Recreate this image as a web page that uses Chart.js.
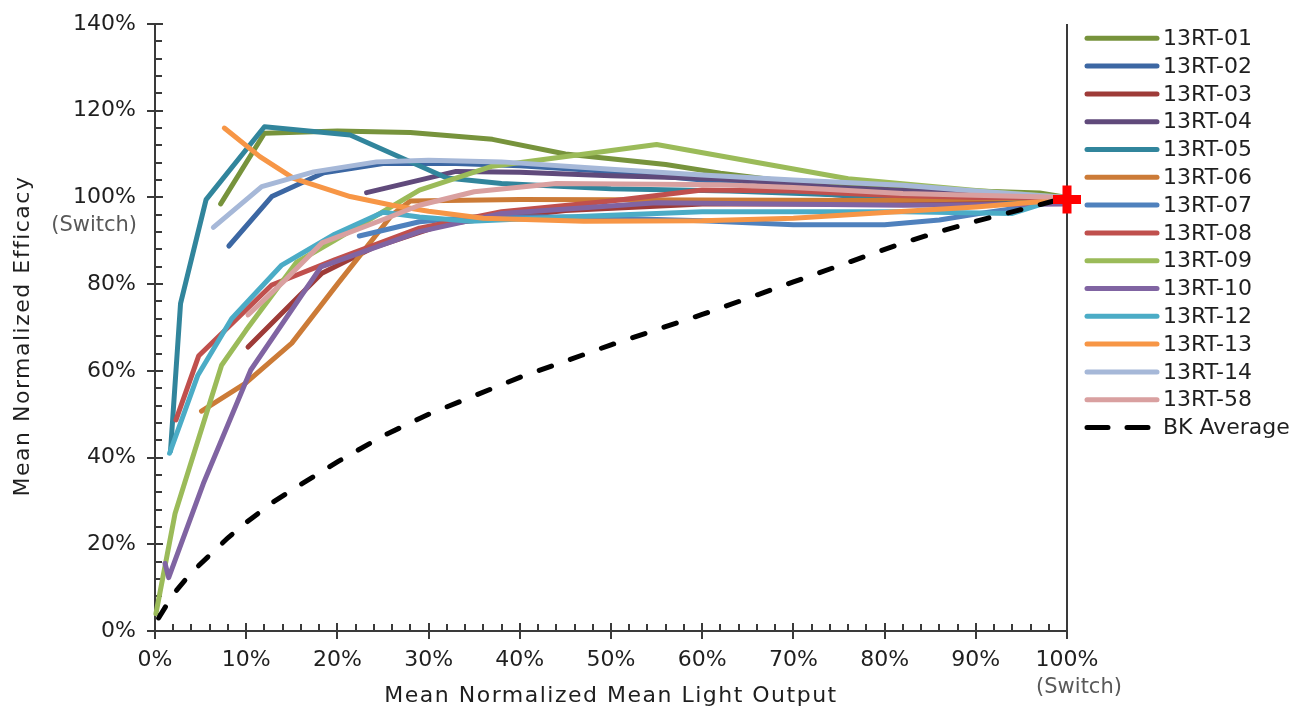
<!DOCTYPE html>
<html>
<head>
<meta charset="utf-8">
<script src="https://cdn.jsdelivr.net/npm/chart.js@4.4.1/dist/chart.umd.min.js"></script>
<style>
  html, body { margin: 0; padding: 0; background: #ffffff; }
  #wrap { width: 1314px; height: 711px; position: relative; }
</style>
</head>
<body>
<div id="wrap"><canvas id="chart" width="1314" height="711"></canvas></div>
<script>
// Series: [mean normalized light output %, mean normalized efficacy %]
const seriesNames = ['13RT-01', '13RT-02', '13RT-03', '13RT-04', '13RT-05', '13RT-06', '13RT-07',
                     '13RT-08', '13RT-09', '13RT-10', '13RT-12', '13RT-13', '13RT-14', '13RT-58'];

const rt01 = [[7.2,98.5],[12,114.8],[20,115.3],[28,115],[37,113.4],[45,110],[56,107.6],[62,105.6],[70,103.5],[80,102],[90,101.5],[97,101],[100,100]];
const rt02 = [[8.1,88.8],[12.8,100.2],[18.5,105.7],[25,107.8],[33,107.8],[40,107.3],[50,106],[60,104],[70,101.5],[80,99.6],[90,99],[100,100]];
const rt03 = [[10.2,65.5],[18.3,82.5],[24,88.5],[32,94],[45,97],[60,98.5],[80,98.5],[100,100]];
const rt04 = [[23.2,101.1],[29,104],[33,106],[40,105.8],[50,105],[62,104.3],[75,102.3],[90,100.8],[100,100]];
const rt05 = [[1.7,41.5],[2.8,75.5],[5.6,99.5],[12,116.3],[21.4,114.4],[32,104.5],[38,103.2],[50,102],[63,101.5],[80,100.2],[95,99.5],[100,100]];
const rt06 = [[5.1,50.7],[9.9,57.1],[15,66.4],[20,80],[26,96],[28,99.2],[40,99.5],[60,99.4],[80,99.3],[100,100]];
const rt07 = [[22.4,91.1],[29,94.4],[35,95.5],[45,95.5],[60,94.6],[70,93.7],[80,93.7],[86,94.8],[91,96.5],[96,98],[100,100]];
const rt08 = [[2.3,48.7],[4.8,63.5],[12.8,79.8],[19.7,85.6],[29,92.9],[38,96.7],[50,99.2],[60,101.7],[70,101.5],[80,100.5],[90,100],[100,100]];
const rt09 = [[0.1,4],[2.2,27.1],[7.3,61.3],[10,69.4],[15.5,85],[19.6,90],[29,101.7],[37,107.2],[55,112.2],[76,104.3],[90,101.6],[100,100]];
const rt10 = [[1.1,15.6],[1.5,12.3],[5.3,34],[10.5,60.2],[18.2,84],[29,92.1],[38,96.3],[55,98.8],[63,98.6],[82,98.2],[100,98.5]];
const rt12 = [[1.6,41],[4.7,59],[8.4,72],[13.9,84.4],[19.7,91.5],[25,96.6],[29,95.5],[34.6,94.5],[45,95.5],[60,96.7],[82,96.7],[94,96.3],[98,99],[100,100]];
const rt13 = [[7.6,116],[11.5,109.4],[15.2,104.4],[21.4,100.2],[26,98.2],[30,96.8],[36,95.2],[47,94.5],[60,94.6],[70,95.2],[80,96.5],[90,97.8],[100,99.5]];
const rt14 = [[6.4,93.1],[11.7,102.5],[17.4,105.9],[24.3,108.2],[30,108.6],[38,108.2],[50,106.5],[60,105.2],[70,104],[82,102.8],[90,101.5],[100,100]];
const rt58 = [[10.2,72.9],[14.3,81],[18.3,89.5],[25.4,95.2],[29,98.2],[35,101.3],[44,103.2],[62,102.9],[70,102.3],[82,100.9],[100,100]];

const bkAverage = [[0.4,3],[2,8.5],[4,13.5],[6,17.5],[8,21.5],[10,25],[13,29.8],[16,33.8],[20,39],[25,45],[30,50],[40,58.5],[50,66],[60,73],[70,80.5],[78,86.5],[82,89.5],[86,92.1],[90,94.5],[95,97.2],[100,100]];
const switchPoint = [[100, 99.5]];

const seriesData = [rt01, rt02, rt03, rt04, rt05, rt06, rt07, rt08, rt09, rt10, rt12, rt13, rt14, rt58];
const seriesColors = ['#77933C', '#3C67A3', '#9E3B38', '#604A7B', '#31859C', '#CC7B37', '#4F81BD',
                      '#C0504D', '#9BBB59', '#8064A2', '#4BACC6', '#F79646', '#A6B8D8', '#D9A0A0'];

const xTickStep = 10, xMinorStep = 2;
const yTickStep = 20, yMinorStep = 4;

const FONT = "'DejaVu Sans', 'Noto Sans', sans-serif";
const TEXT = '#1f1f1f';
const SUBTEXT = '#595959';
const AXIS = '#3a3a3a';

const datasets = seriesData.map((pts, i) => ({
  label: seriesNames[i],
  data: pts,
  borderColor: seriesColors[i],
  backgroundColor: seriesColors[i],
  borderWidth: 5,
  pointRadius: 0,
  tension: 0,
  borderCapStyle: 'round',
  borderJoinStyle: 'round',
  fill: false,
  clip: false,
  order: 40 - i
}));

datasets.push({
  label: 'BK Average',
  data: bkAverage,
  borderColor: '#000000',
  backgroundColor: '#000000',
  borderWidth: 5,
  borderDash: [13, 20],
  borderCapStyle: 'round',
  pointRadius: 0,
  tension: 0,
  fill: false,
  clip: false,
  order: 2
});

datasets.push({
  label: '',
  data: switchPoint,
  showLine: false,
  pointStyle: 'cross',
  pointRadius: 14,
  pointBorderWidth: 9,
  pointBorderColor: '#FF0000',
  pointBackgroundColor: '#FF0000',
  borderColor: '#FF0000',
  clip: false,
  order: 0
});

// Axis frame with crossing major ticks and inside minor ticks
const framePlugin = {
  id: 'frame',
  beforeDatasetsDraw(chart) {
    const { ctx, chartArea: a, scales: { x, y } } = chart;
    ctx.save();
    ctx.strokeStyle = AXIS;
    ctx.lineWidth = 2;
    ctx.beginPath();
    ctx.moveTo(a.left, a.top);
    ctx.lineTo(a.left, a.bottom);
    ctx.lineTo(a.right, a.bottom);
    ctx.moveTo(a.right, a.top);
    ctx.lineTo(a.right, a.bottom);
    ctx.stroke();

    ctx.beginPath();
    for (let v = y.min; v <= y.max; v += yMinorStep) {
      const py = Math.round(y.getPixelForValue(v));
      if (v % yTickStep === 0) { ctx.moveTo(a.left - 8, py); ctx.lineTo(a.left + 8, py); }
      else { ctx.moveTo(a.left, py); ctx.lineTo(a.left + 7, py); }
    }
    for (let v = x.min; v <= x.max; v += xMinorStep) {
      const px = Math.round(x.getPixelForValue(v));
      if (v % xTickStep === 0) { ctx.moveTo(px, a.bottom - 8); ctx.lineTo(px, a.bottom + 8); }
      else { ctx.moveTo(px, a.bottom); ctx.lineTo(px, a.bottom - 7); }
    }
    ctx.stroke();
    ctx.restore();
  },
  afterDraw(chart) {
    const { ctx, chartArea: a, scales: { x, y } } = chart;
    ctx.save();

    // "(Switch)" notes under the 100% tick labels
    ctx.fillStyle = SUBTEXT;
    ctx.font = '21px ' + FONT;
    ctx.textBaseline = 'middle';
    ctx.textAlign = 'right';
    ctx.fillText('(Switch)', a.left - 18, y.getPixelForValue(100) + 28);
    ctx.textAlign = 'center';
    ctx.fillText('(Switch)', x.getPixelForValue(100) + 12, a.bottom + 57);

    // Axis titles
    ctx.fillStyle = TEXT;
    ctx.font = '22px ' + FONT;
    ctx.letterSpacing = '1.5px';
    ctx.textAlign = 'center';
    ctx.fillText('Mean Normalized Mean Light Output', (a.left + a.right) / 2, a.bottom + 65);
    ctx.save();
    ctx.translate(23, 336);
    ctx.rotate(-Math.PI / 2);
    ctx.fillText('Mean Normalized Efficacy', 0, 0);
    ctx.restore();
    ctx.letterSpacing = '0px';

    // Legend
    const legendX = 1087, lineLen = 70, textX = 1163, top = 38.3, step = 27.8;
    ctx.font = '22px ' + FONT;
    ctx.textAlign = 'left';
    ctx.textBaseline = 'middle';
    let row = 0;
    chart.data.datasets.forEach(ds => {
      if (!ds.label) return;
      const ly = top + row * step;
      ctx.strokeStyle = ds.borderColor;
      ctx.lineWidth = 5;
      ctx.lineCap = 'round';
      ctx.beginPath();
      if (ds.borderDash) {
        ctx.moveTo(legendX, ly); ctx.lineTo(legendX + 21, ly);
        ctx.moveTo(legendX + 40, ly); ctx.lineTo(legendX + 61, ly);
      } else {
        ctx.moveTo(legendX, ly); ctx.lineTo(legendX + lineLen, ly);
      }
      ctx.stroke();
      ctx.fillStyle = TEXT;
      ctx.fillText(ds.label, textX, ly + 1);
      row++;
    });
    ctx.restore();
  }
};

new Chart(document.getElementById('chart'), {
  type: 'line',
  data: { datasets },
  options: {
    responsive: false,
    animation: false,
    devicePixelRatio: 1,
    events: [],
    layout: { padding: { left: 0, right: 247, top: 24, bottom: 0 } },
    plugins: { legend: { display: false }, tooltip: { enabled: false } },
    scales: {
      x: {
        type: 'linear',
        min: 0, max: 100,
        grid: { display: false, drawTicks: false },
        border: { display: false },
        ticks: {
          stepSize: xTickStep, autoSkip: false, maxRotation: 0,
          padding: 16, color: TEXT,
          font: { family: FONT, size: 22 },
          callback: v => v + '%'
        },
        afterFit: s => { s.height = 80; s.paddingLeft = 0; s.paddingRight = 0; }
      },
      y: {
        type: 'linear',
        min: 0, max: 140,
        grid: { display: false, drawTicks: false },
        border: { display: false },
        ticks: {
          stepSize: yTickStep, autoSkip: false,
          padding: 19, color: TEXT,
          font: { family: FONT, size: 22 },
          callback: v => v + '%'
        },
        afterFit: s => { s.width = 155; s.paddingTop = 0; s.paddingBottom = 0; }
      }
    }
  },
  plugins: [framePlugin]
});
</script>
</body>
</html>
